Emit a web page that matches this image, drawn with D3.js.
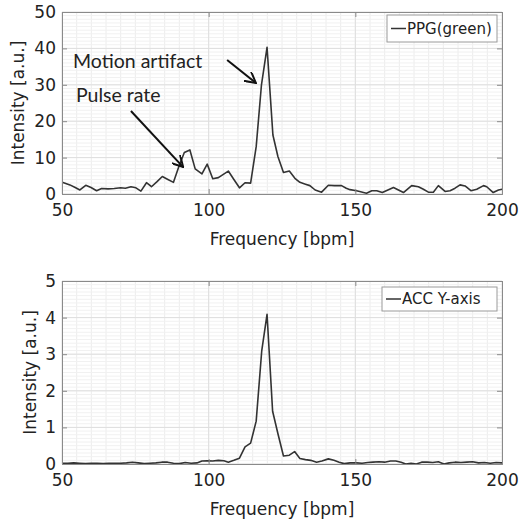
<!DOCTYPE html>
<html>
<head>
<meta charset="utf-8">
<script src="https://cdn.jsdelivr.net/npm/d3@7"></script>
<style>
  body { margin: 0; background: #fff; }
  text { font-family: 'DejaVu Sans', sans-serif; fill: #222; }
</style>
</head>
<body>
<script>
let w = 521;
let h = 524;

// PPG (green) spectrum: [frequency bpm, intensity]
let ppgFreq = [50.1, 52.7, 54.5, 56.1, 58.1, 59.9, 61.8, 63.5, 65.7, 67.8, 70.0, 71.6, 73.5, 75.2, 76.9, 78.8, 80.5, 82.4, 84.2, 86.1,
  88.0, 89.9, 91.7, 93.6, 95.4, 97.7, 99.5, 101.4, 103.3, 105.0, 106.7, 108.6, 110.5, 112.4, 114.3, 116.2, 118.0, 119.9, 121.9, 123.6,
  125.5, 127.5, 129.4, 131.1, 133.0, 134.5, 136.3, 138.5, 140.8, 142.9, 145.3, 146.9, 148.2, 150.4, 151.8, 153.8, 155.6, 157.3, 159.2, 161.1,
  163.0, 164.7, 166.4, 169.2, 171.5, 173.2, 174.9, 176.6, 178.3, 180.6, 182.3, 184.0, 185.7, 187.4, 189.4, 191.4, 193.7, 194.8, 197.0, 198.8, 200.0];
let ppgValues = [3.2, 2.5, 1.8, 1.1, 2.4, 1.8, 0.9, 1.5, 1.4, 1.5, 1.7, 1.6, 2.0, 1.7, 0.8, 3.1, 2.0, 3.4, 4.8, 4.0,
  3.2, 7.7, 11.4, 12.1, 6.9, 5.5, 8.2, 4.2, 4.5, 5.4, 6.3, 4.0, 1.7, 3.1, 3.0, 13.0, 30.0, 40.3, 16.2, 10.3,
  5.9, 6.3, 4.3, 3.2, 2.7, 2.3, 1.1, 0.5, 2.4, 2.3, 2.3, 1.6, 1.2, 0.9, 0.6, 0.2, 0.9, 0.9, 0.4, 1.1,
  1.8, 1.1, 0.4, 2.3, 2.0, 1.3, 0.5, 0.5, 2.3, 0.7, 0.9, 1.6, 2.5, 2.2, 0.9, 1.3, 2.3, 2.0, 0.4, 1.1, 1.3];

// ACC Y-axis spectrum
let accFreq = [50, 52, 54, 56, 58, 60, 62, 64, 66, 68, 70, 72, 74, 76, 78, 80, 82, 84, 86, 88,
  90, 92, 94, 96, 97.7, 99.5, 101.4, 103.3, 105.2, 106.7, 108.6, 110.5, 112.4, 114.3, 116.2, 118.1, 119.9, 121.8, 123.7, 125.5,
  127.5, 129.3, 131.1, 133.0, 134.8, 136.8, 138.6, 140.8, 142.7, 144.5, 146.2, 148.2, 150.4, 152.3, 154.2, 156.0, 158.0, 160.0, 162.0, 163.8,
  165.6, 167.2, 169.0, 170.8, 172.6, 174.5, 176.4, 178.3, 180.2, 182.0, 184.0, 186.0, 188.0, 190.0, 192.0, 194.0, 196.0, 198.0, 200.0];
let accValues = [0.02, 0.02, 0.03, 0.02, 0.01, 0.02, 0.02, 0.01, 0.02, 0.02, 0.02, 0.03, 0.05, 0.03, 0.01, 0.02, 0.03, 0.05, 0.05, 0.02,
  0.01, 0.04, 0.02, 0.03, 0.08, 0.09, 0.08, 0.10, 0.09, 0.05, 0.10, 0.16, 0.47, 0.57, 1.17, 3.1, 4.09, 1.44, 0.8, 0.22,
  0.24, 0.34, 0.15, 0.12, 0.10, 0.05, 0.08, 0.14, 0.10, 0.05, 0.01, 0.03, 0.03, 0.02, 0.04, 0.05, 0.06, 0.05, 0.08, 0.08,
  0.05, 0.0, 0.02, 0.0, 0.05, 0.05, 0.04, 0.06, 0.0, 0.03, 0.05, 0.04, 0.05, 0.06, 0.03, 0.04, 0.02, 0.04, 0.03];

let xTicks = [50, 100, 150, 200];
let ppgTicks = [0, 10, 20, 30, 40, 50];
let accTicks = [0, 1, 2, 3, 4, 5];

let svg = d3.select('body')
  .append('svg')
  .attr('width', w)
  .attr('height', h);

let defs = svg.append('defs');
defs.append('marker')
  .attr('id', 'arrow')
  .attr('viewBox', '0 0 12 12')
  .attr('refX', 11)
  .attr('refY', 6)
  .attr('markerWidth', 12)
  .attr('markerHeight', 12)
  .attr('markerUnits', 'userSpaceOnUse')
  .attr('orient', 'auto')
  .append('path')
  .attr('d', 'M0,0 L11,6 L0,12')
  .attr('fill', 'none')
  .attr('stroke', '#111')
  .attr('stroke-width', 2);

function drawPanel(opt) {
  let x = d3.scaleLinear().domain([50, 200]).range([62, 502]);
  let y = d3.scaleLinear().domain(opt.yDomain).range([opt.bottom, opt.top]);
  let g = svg.append('g');

  // minor grid
  let minorX = d3.range(55, 200, 5);
  let minorY = d3.range(opt.yDomain[0], opt.yDomain[1], opt.minorStep);
  g.selectAll('.mx').data(minorX).enter().append('line')
    .attr('x1', (d) => x(d)).attr('x2', (d) => x(d))
    .attr('y1', opt.top).attr('y2', opt.bottom)
    .attr('stroke', '#ececec');
  g.selectAll('.my').data(minorY).enter().append('line')
    .attr('x1', 62).attr('x2', 502)
    .attr('y1', (d) => y(d)).attr('y2', (d) => y(d))
    .attr('stroke', '#f1f1f1');
  // major grid
  g.selectAll('.gx').data(xTicks).enter().append('line')
    .attr('x1', (d) => x(d)).attr('x2', (d) => x(d))
    .attr('y1', opt.top).attr('y2', opt.bottom)
    .attr('stroke', '#dedede');
  g.selectAll('.gy').data(opt.yTicks).enter().append('line')
    .attr('x1', 62).attr('x2', 502)
    .attr('y1', (d) => y(d)).attr('y2', (d) => y(d))
    .attr('stroke', '#dedede');

  // data line
  let line = d3.line()
    .x((d) => x(d[0]))
    .y((d) => y(d[1]));
  g.append('path')
    .datum(d3.zip(opt.freq, opt.values))
    .attr('d', line)
    .attr('fill', 'none')
    .attr('stroke', '#333')
    .attr('stroke-width', 1.6)
    .attr('stroke-linejoin', 'round');

  // axes, ticks inward on all sides
  let xAxis = d3.axisBottom(x).tickValues(xTicks).tickSize(-5).tickPadding(10);
  let yAxis = d3.axisLeft(y).tickValues(opt.yTicks).tickSize(-5).tickPadding(6).tickFormat(d3.format('d'));
  let xTop = d3.axisTop(x).tickValues(xTicks).tickSize(-5).tickFormat('');
  let yRight = d3.axisRight(y).tickValues(opt.yTicks).tickSize(-5).tickFormat('');

  let ax = [
    g.append('g').attr('transform', 'translate(0,' + opt.bottom + ')').call(xAxis),
    g.append('g').attr('transform', 'translate(62,0)').call(yAxis),
    g.append('g').attr('transform', 'translate(0,' + opt.top + ')').call(xTop),
    g.append('g').attr('transform', 'translate(502,0)').call(yRight)
  ];
  ax.forEach((a) => {
    a.selectAll('.domain').attr('stroke', '#8a8a8a');
    a.selectAll('.tick line').attr('stroke', '#8a8a8a');
    a.selectAll('text')
      .attr('font-family', "'DejaVu Sans', sans-serif")
      .attr('font-size', '17px')
      .attr('fill', '#222');
  });

  svg.append('text')
    .attr('x', 282)
    .attr('y', opt.bottom + 51)
    .attr('text-anchor', 'middle')
    .attr('font-size', '17px')
    .text('Frequency [bpm]');

  svg.append('text')
    .attr('transform', 'translate(' + opt.yLabelX + ',' + ((opt.top + opt.bottom) / 2) + ') rotate(-90)')
    .attr('text-anchor', 'middle')
    .attr('font-size', '17px')
    .text('Intensity [a.u.]');

  // legend
  let lg = svg.append('g');
  lg.append('rect')
    .attr('x', opt.legend[0]).attr('y', opt.legend[1])
    .attr('width', 497 - opt.legend[0]).attr('height', opt.legend[2])
    .attr('fill', '#fff')
    .attr('stroke', '#9a9a9a');
  let ly = opt.legend[1] + opt.legend[2] / 2;
  lg.append('line')
    .attr('x1', opt.legend[0] + 4).attr('x2', opt.legend[0] + 19)
    .attr('y1', ly).attr('y2', ly)
    .attr('stroke', '#333').attr('stroke-width', 1.5);
  lg.append('text')
    .attr('x', opt.legend[0] + 20)
    .attr('y', ly + 5)
    .attr('font-size', '15px')
    .text(opt.name);

  return { x: x, y: y };
}

let ppgPanel = drawPanel({
  freq: ppgFreq, values: ppgValues, name: 'PPG(green)',
  yDomain: [0, 50], yTicks: ppgTicks, minorStep: 1,
  top: 12, bottom: 194, yLabelX: 24, legend: [387, 15, 27]
});

drawPanel({
  freq: accFreq, values: accValues, name: 'ACC Y-axis',
  yDomain: [0, 5], yTicks: accTicks, minorStep: 0.1,
  top: 281, bottom: 464, yLabelX: 36, legend: [382, 287, 24]
});

// annotations (data coordinates of top panel)
let notes = [
  { label: 'Motion artifact', tx: 73, ty: 68, from: [106.3, 36.8], to: [116.1, 30.5] },
  { label: 'Pulse rate', tx: 76, ty: 102, from: [73.5, 22.8], to: [91.3, 7.4] }
];

svg.selectAll('.note')
  .data(notes)
  .enter()
  .append('text')
  .attr('x', (d) => d.tx)
  .attr('y', (d) => d.ty)
  .attr('font-size', '19.5px')
  .style('font-family', 'Lato, sans-serif')
  .text((d) => d.label);

svg.selectAll('.arrow')
  .data(notes)
  .enter()
  .append('line')
  .attr('x1', (d) => ppgPanel.x(d.from[0]))
  .attr('y1', (d) => ppgPanel.y(d.from[1]))
  .attr('x2', (d) => ppgPanel.x(d.to[0]))
  .attr('y2', (d) => ppgPanel.y(d.to[1]))
  .attr('stroke', '#111')
  .attr('stroke-width', 2)
  .attr('marker-end', 'url(#arrow)');
</script>
</body>
</html>
